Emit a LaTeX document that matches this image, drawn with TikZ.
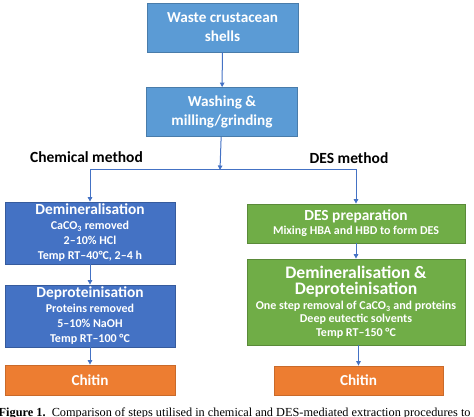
\documentclass[tikz,border=0pt]{standalone}
\usepackage{fontspec}
\setmainfont{Carlito}
\newfontfamily\captionfont{Liberation Serif}
\usetikzlibrary{arrows.meta,positioning}
\definecolor{lightblue}{HTML}{5B9BD5}
\definecolor{chemblue}{HTML}{4472C4}
\definecolor{desgreen}{HTML}{70AD47}
\definecolor{chitinorange}{HTML}{ED7D31}
\definecolor{linkblue}{HTML}{4472C4}
\newcommand{\titlesize}{\fontsize{15.4}{16}\selectfont}
\newcommand{\subsize}{\fontsize{12}{15}\selectfont}

\begin{document}
\begin{tikzpicture}[x=1pt,y=-1pt,>={Triangle[width=4.5pt,length=4.5pt]},
  stepbox/.style={draw,line width=0.8pt,align=center,inner sep=1pt,
    text=white,font=\bfseries\subsize},
  topbox/.style={stepbox,fill=lightblue,draw=lightblue!80!black,
    minimum width=151pt,minimum height=49pt,font=\bfseries\fontsize{15.2}{19}\selectfont},
  chembox/.style={stepbox,fill=chemblue,draw=chemblue!80!black,
    minimum width=170pt,minimum height=62pt},
  desbox/.style={stepbox,fill=desgreen,draw=desgreen!80!black,minimum width=218pt},
  endbox/.style={stepbox,fill=chitinorange,draw=chitinorange!85!black,
    minimum width=170pt,minimum height=30pt,font=\bfseries\fontsize{15.2}{18}\selectfont},
  link/.style={draw=linkblue,line width=1pt},
  method/.style={font=\bfseries\fontsize{15.5}{17}\selectfont}]
  \useasboundingbox (0,0) rectangle (474,417);
  % Common pre-treatment
  \node[topbox] (waste) at (222.5,27.5) {Waste crustacean\\shells};
  \node[topbox] (washing) at (222,112) {Washing \&\\milling/grinding};
  \coordinate (split) at (220,170);
  \node[method] (chemlabel) at (86.5,157) {Chemical method};
  \node[method] (deslabel) at (349,158) {DES method};
  % Chemical route
  \node[chembox] (demin) at (90,233)
    {\titlesize Demineralisation\\[0pt]CaCO\textsubscript{3} removed\\
     2–10\% HCl\\Temp RT–40°C, 2–4 h};
  \node[chembox] (deprot) at (90,316)
    {\titlesize Deproteinisation\\[0pt]Proteins removed\\
     5–10\% NaOH\\Temp RT–100 °C};
  \node[endbox] (chitinL) at (90,380) {Chitin};
  % DES route
  \node[desbox,minimum height=39pt] (desprep) at (356,223.5)
    {\fontsize{15.4}{17}\selectfont DES preparation\\[-1pt]
     Mixing HBA and HBD to form DES};
  \node[desbox,minimum height=86pt] (onestep) at (356,302)
    {\fontsize{17.6}{18}\selectfont Demineralisation \&\\[1.5pt]
     \fontsize{17.6}{18}\selectfont Deproteinisation\\[-0.5pt]
     One step removal of CaCO\textsubscript{3} and proteins\\[-1.5pt]
     Deep eutectic solvents\\[-1.5pt]Temp RT–150 °C};
  \node[endbox,minimum width=169pt,minimum height=29pt] (chitinR) at (358.5,380.5) {Chitin};
  % Connectors
  \draw[link,->] (waste) -- (washing);
  \draw[link,->] (washing) -- (split);
  \draw[link,->] (split) -| (demin.north);
  \draw[link,->] (split) -| (desprep.north);
  \draw[link,->] (demin) -- (deprot);
  \draw[link,->] (deprot) -- (chitinL);
  \draw[link,->] (desprep) -- (onestep);
  \draw[link,->] (onestep.south -| chitinR.north) -- (chitinR);
  % Caption (cut at the right edge)
  \node[anchor=base west,inner sep=0pt,font=\captionfont\fontsize{12.3}{14}\selectfont]
    (caption) at (-1.5,416)
    {\textbf{Figure 1.}\ \ Comparison of steps utilised in chemical and DES-mediated extraction procedures to};
\end{tikzpicture}
\end{document}
